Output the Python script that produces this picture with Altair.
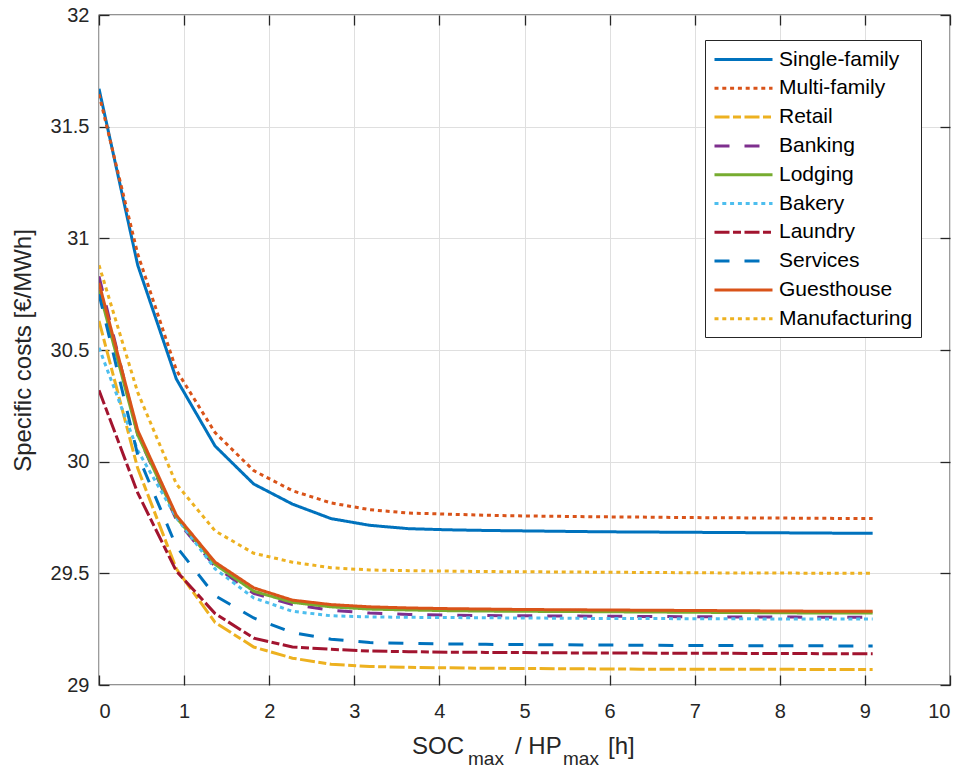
import altair as alt
import pandas as pd

# Storage size relative to heat-pump power [h]
soc_hours = [0.0, 0.455, 0.909, 1.364, 1.818, 2.273, 2.727, 3.182, 3.636, 4.091, 4.545,
             5.0, 5.455, 5.909, 6.364, 6.818, 7.273, 7.727, 8.182, 8.636, 9.091]

names = ["Single-family", "Multi-family", "Retail", "Banking", "Lodging",
         "Bakery", "Laundry", "Services", "Guesthouse", "Manufacturing"]

# Specific costs [EUR/MWh] per building type
single_family = [31.67, 30.88, 30.37, 30.07, 29.90, 29.81, 29.745, 29.715, 29.70, 29.695, 29.692,
                 29.69, 29.688, 29.686, 29.685, 29.684, 29.683, 29.682, 29.681, 29.68, 29.68]
multi_family = [31.645, 30.93, 30.41, 30.13, 29.96, 29.87, 29.815, 29.785, 29.77, 29.765, 29.76,
                29.757, 29.755, 29.753, 29.752, 29.75, 29.749, 29.748, 29.747, 29.746, 29.745]
retail = [30.63, 29.97, 29.52, 29.28, 29.17, 29.12, 29.093, 29.083, 29.079, 29.077, 29.075,
          29.074, 29.073, 29.072, 29.071, 29.071, 29.07, 29.07, 29.07, 29.069, 29.069]
banking = [30.83, 30.12, 29.74, 29.53, 29.41, 29.36, 29.335, 29.322, 29.316, 29.313, 29.311,
           29.31, 29.309, 29.308, 29.307, 29.306, 29.305, 29.304, 29.304, 29.303, 29.303]
lodging = [30.77, 30.12, 29.75, 29.54, 29.42, 29.37, 29.35, 29.34, 29.336, 29.333, 29.331,
           29.33, 29.329, 29.328, 29.327, 29.326, 29.325, 29.324, 29.323, 29.322, 29.322]
bakery = [30.51, 30.05, 29.75, 29.52, 29.39, 29.33, 29.31, 29.305, 29.303, 29.302, 29.301,
          29.30, 29.299, 29.298, 29.298, 29.297, 29.297, 29.296, 29.296, 29.295, 29.295]
laundry = [30.32, 29.86, 29.51, 29.32, 29.21, 29.17, 29.16, 29.152, 29.149, 29.147, 29.146,
           29.145, 29.144, 29.143, 29.143, 29.142, 29.142, 29.141, 29.141, 29.14, 29.14]
services = [30.75, 30.03, 29.62, 29.40, 29.30, 29.235, 29.205, 29.19, 29.186, 29.184, 29.182,
            29.181, 29.18, 29.179, 29.178, 29.177, 29.177, 29.176, 29.176, 29.175, 29.175]
guesthouse = [30.80, 30.14, 29.76, 29.55, 29.435, 29.38, 29.36, 29.35, 29.345, 29.342, 29.34,
              29.338, 29.337, 29.336, 29.335, 29.334, 29.333, 29.332, 29.331, 29.33, 29.33]
manufacturing = [30.88, 30.31, 29.90, 29.69, 29.59, 29.55, 29.525, 29.515, 29.512, 29.51, 29.508,
                 29.507, 29.506, 29.505, 29.504, 29.503, 29.502, 29.502, 29.501, 29.50, 29.50]

series_values = [single_family, multi_family, retail, banking, lodging,
                 bakery, laundry, services, guesthouse, manufacturing]

x_ticks = [0, 1, 2, 3, 4, 5, 6, 7, 8, 9, 10]
y_ticks = [29, 29.5, 30, 30.5, 31, 31.5, 32]

colors = ["#0072BD", "#D95319", "#EDB120", "#7E2F8E", "#77AC30",
          "#4DBEEE", "#A2142F", "#0072BD", "#D95319", "#EDB120"]
solid = [1, 0]
dotted = [4, 3.8]
dashed = [15, 15]
dashdot = [15, 3.5, 8, 3.5]
dashes = [solid, dotted, dashdot, dashed, solid, dotted, dashdot, dashed, solid, dotted]

rows = []
for name, vals in zip(names, series_values):
    for x, v in zip(soc_hours, vals):
        rows.append({"series": name, "soc": x, "cost": v})
df = pd.DataFrame(rows)

FONT = "Liberation Sans"
INK = "#262626"
W, H = 851, 670
LW = 3

x_scale = alt.Scale(domain=[0, 10], nice=False, zero=False)
y_scale = alt.Scale(domain=[29, 32], nice=False, zero=False)
color_scale = alt.Scale(domain=names, range=colors)
dash_scale = alt.Scale(domain=names, range=dashes)

# long horizontal legend sample drawn as a path three symbol-widths wide,
# so the rows stay as tall as the labels
legend = alt.Legend(
    title=None, orient="none", legendX=606, legendY=25,
    symbolType="M-3,0H3", symbolSize=374, symbolStrokeWidth=LW, symbolOffset=19,
    labelFont=FONT, labelFontSize=21, labelColor="black", labelOffset=24,
    labelAlign="left", padding=8, rowPadding=6.8, strokeColor=INK,
    fillColor="white", cornerRadius=0,
)

bottom_axis = alt.Axis(
    orient="bottom", offset=-10, tickSize=10, labelPadding=16, values=x_ticks,
    domain=False, grid=True, title=None, format="d",
)
left_axis = alt.Axis(
    orient="left", offset=-10, tickSize=10, labelPadding=10, values=y_ticks,
    domain=False, grid=True, format=".1~f",
    title="Specific costs [€/MWh]", titleFontSize=24, titleFont=FONT,
    titleFontWeight="normal", titleColor=INK, titlePadding=15,
)


def series_layer(i, name):
    first = i == 0
    return alt.Chart(df).transform_filter(alt.datum.series == name).mark_line(
        strokeWidth=LW, clip=True
    ).encode(
        x=alt.X("soc:Q", scale=x_scale, axis=bottom_axis if first else None),
        y=alt.Y("cost:Q", scale=y_scale, axis=left_axis if first else None),
        color=alt.Color("series:N", scale=color_scale, legend=legend),
        strokeDash=alt.StrokeDash("series:N", scale=dash_scale, legend=legend),
    )


layers = [series_layer(i, n) for i, n in enumerate(names)]

# inward ticks on the top and right edges of the box
box_ticks = alt.Chart(df).transform_filter(alt.datum.series == names[0]).mark_line(
    opacity=0
).encode(
    x=alt.X("soc:Q", scale=x_scale, axis=alt.Axis(
        orient="top", offset=-10, tickSize=10, labels=False, domain=False,
        grid=False, values=x_ticks, title=None)),
    y=alt.Y("cost:Q", scale=y_scale, axis=alt.Axis(
        orient="right", offset=-10, tickSize=10, labels=False, domain=False,
        grid=False, values=y_ticks, title=None)),
)
layers.append(box_ticks)

# x-axis title with subscripts
title_parts = [("SOC", 313, 739, 24), ("max", 369, 750, 19), ("/ HP", 416, 739, 24),
               ("max", 464, 750, 19), ("[h]", 509, 739, 24)]
for text, tx, ty, fs in title_parts:
    layers.append(
        alt.Chart(pd.DataFrame({"t": [text]})).mark_text(
            align="left", baseline="alphabetic", font=FONT, fontSize=fs, color=INK
        ).encode(text="t:N", x=alt.value(tx), y=alt.value(ty))
    )

chart = alt.layer(*layers).resolve_axis(
    x="independent", y="independent"
).properties(
    width=W, height=H,
    autosize=alt.AutoSizeParams(type="none"),
    padding={"left": 99, "top": 15, "right": 15, "bottom": 84},
    background="white",
).configure_view(
    stroke=INK, strokeWidth=1.3, fill="white"
).configure_axis(
    labelFont=FONT, labelFontSize=20, labelColor=INK,
    tickColor=INK, tickWidth=1.3, gridColor="#dfdfdf", gridWidth=1,
)

chart.save("out.html", embed_options={"renderer": "svg", "actions": False})
